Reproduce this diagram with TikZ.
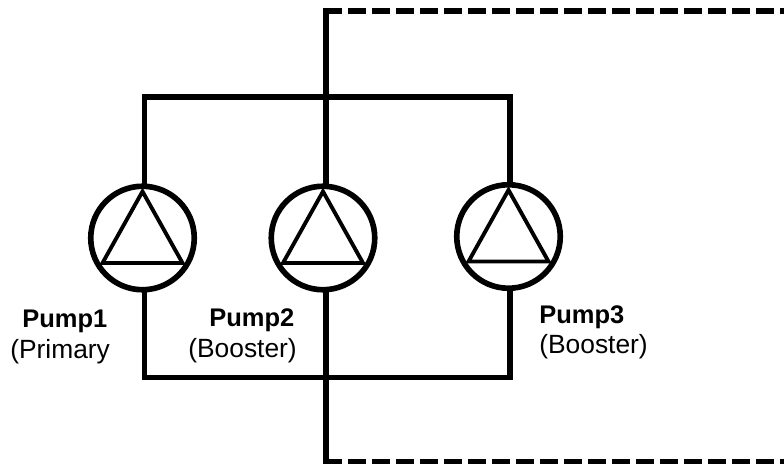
\documentclass[tikz,border=0pt]{standalone}
\usepackage{fontspec}
\setmainfont{Liberation Sans}
\tikzset{
  pipe/.style={line width=3.3pt,line cap=rect,line join=miter},
  return/.style={line width=3.3pt,dash pattern=on 0.36cm off 0.12cm,dash phase=0.046cm},
  pump/.style={circle,draw,line width=3.2pt,minimum size=2.07cm,inner sep=0pt},
  rotor/.style={line width=2.2pt,line join=miter},
  tag/.style={anchor=base west,inner sep=0pt,font=\fontsize{15}{17}\selectfont},
  bigtag/.style={tag,font=\fontsize{14.5}{17}\selectfont\bfseries},
}
\begin{document}
\begin{tikzpicture}
  \useasboundingbox (0,0) rectangle (15.68,9.26);
  \node[pump] (pump1) at (2.85,4.5) {};
  \node[pump] (pump2) at (6.46,4.5) {};
  \node[pump] (pump3) at (10.17,4.53) {};
  \foreach \n in {pump1,pump2,pump3}
    \draw[rotor] ([shift={(0,0.93)}]\n.center) -- ([shift={(-0.8,-0.5)}]\n.center)
      -- ([shift={(0.8,-0.5)}]\n.center) -- cycle;

  \coordinate (topleft) at (2.89,7.32);
  \coordinate (topright) at (10.2,7.32);
  \coordinate (botleft) at (2.89,1.71);
  \coordinate (botright) at (10.2,1.71);
  \coordinate (supply) at (6.52,9.04);
  \coordinate (drain) at (6.52,0.02);
  \coordinate (supplyend) at (15.9,9.04);
  \coordinate (drainend) at (15.9,0.02);

  \draw[pipe] (topleft |- pump1.north) -- (topleft) -- (topright) -- (topright |- pump3.north);
  \draw[pipe] (botleft |- pump1.south) -- (botleft) -- (botright) -- (botright |- pump3.south);
  \draw[pipe] (supply |- pump2.north) -- (supply);
  \draw[pipe] (drain |- pump2.south) -- (drain);
  \draw[return] (supply) -- (supplyend);
  \draw[return] (drain) -- (drainend);

  \node[bigtag] (name1) at (0.44,2.71) {Pump1};
  \node[tag] (kind1) at (0.2,2.1) {(Primary};
  \node[bigtag] (name2) at (4.18,2.73) {Pump2};
  \node[tag] (kind2) at (3.76,2.11) {(Booster)};
  \node[bigtag] (name3) at (10.78,2.8) {Pump3};
  \node[tag] (kind3) at (10.78,2.2) {(Booster)};
\end{tikzpicture}
\end{document}
